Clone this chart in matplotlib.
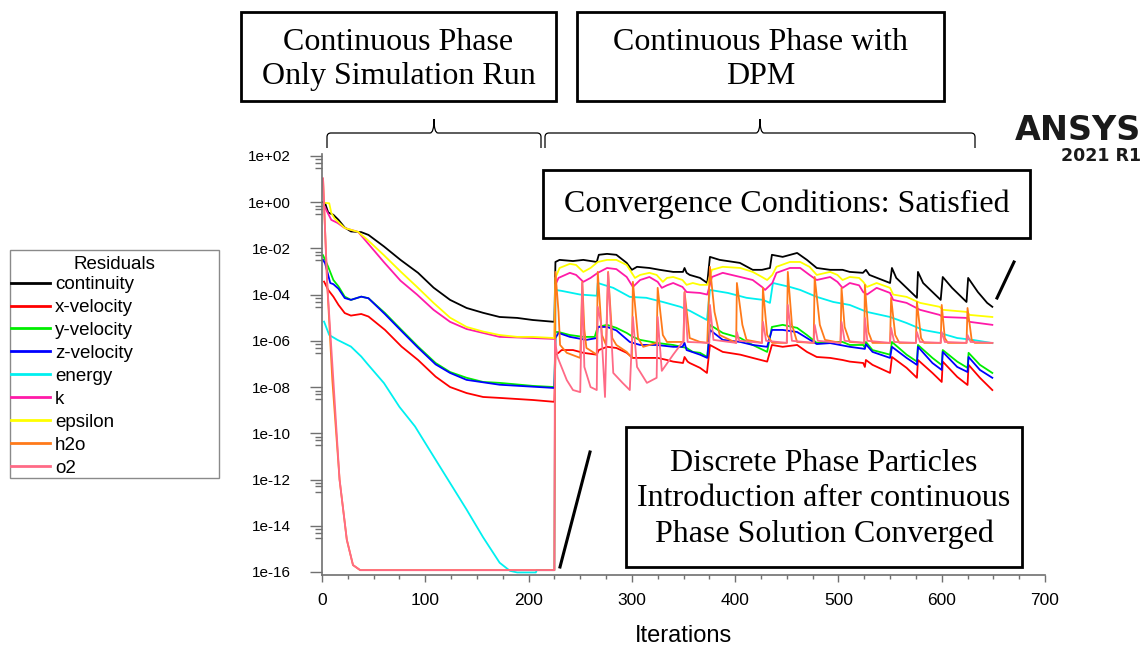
import numpy as np
import matplotlib
matplotlib.use("Agg")
import matplotlib.pyplot as plt
from matplotlib.patches import Rectangle, PathPatch
from matplotlib.path import Path
from matplotlib.lines import Line2D
from matplotlib.ticker import FixedLocator, FixedFormatter, MultipleLocator

# ---------------- data: (iteration, log10 residual) ----------------
continuity_pts = [(1, 0.0), (3, -0.05), (6, -0.45), (11, -0.55), (16, -0.77), (22, -1.1), (28, -1.27),
                  (38, -1.3), (45, -1.42), (60, -1.92), (76, -2.5), (93, -3.06), (108, -3.7), (124, -4.23),
                  (140, -4.58), (156, -4.79), (172, -4.97), (189, -5.01), (204, -5.1), (225, -5.18),
                  (226, -2.59), (230, -2.5), (243, -2.55), (253, -2.5), (266, -2.59), (268, -2.28), (276, -2.24),
                  (285, -2.28), (295, -2.63), (300, -2.93), (305, -2.8), (317, -2.85), (327, -2.93), (340, -3.02),
                  (349.5, -3.02), (351, -2.85), (353, -3.06), (356, -3.15), (366, -3.28), (373, -3.5),
                  (375.6, -2.37), (385, -2.5), (404.6, -2.63), (417, -2.93), (426, -2.93), (433.7, -2.85),
                  (435.6, -2.28), (446, -2.37), (460, -2.2), (469.5, -2.5), (479, -2.85), (492, -2.93),
                  (504, -2.93), (511, -3.02), (523.7, -3.06), (526.6, -2.93), (530, -3.15), (550, -3.5),
                  (551.8, -2.85), (556, -3.28), (566, -3.71), (576, -4.14), (577, -3.02), (582, -3.5),
                  (592, -3.93), (599, -4.23), (601, -3.24), (610, -3.71), (624, -4.32), (625.6, -3.28),
                  (635, -3.89), (644, -4.36), (649, -4.53)]

x_velocity_pts = [(2, -3.44), (6, -3.8), (11, -4.09), (16, -4.45), (22, -4.8), (28, -4.91), (38, -4.84),
                  (45, -4.95), (61, -5.53), (77, -6.25), (93, -6.83), (110, -7.55), (124, -8.0), (140, -8.26),
                  (156, -8.43), (172, -8.47), (204, -8.56), (225, -8.64),
                  (226, -6.6), (229, -6.52), (232, -6.4), (243, -6.4), (253, -6.52), (266, -6.6), (268, -6.4),
                  (276, -6.26), (285, -6.31), (295, -6.52), (301, -6.74), (325, -6.74), (334, -6.83),
                  (340, -6.9), (349.5, -6.96), (351, -6.7), (354, -6.9), (356, -6.96), (366, -7.17),
                  (372.7, -7.39), (375.6, -6.18), (388, -6.48), (405, -6.6), (417, -6.74), (431, -6.9),
                  (435.6, -6.18), (446, -6.26), (460, -6.18), (469.5, -6.48), (479, -6.7), (492, -6.74),
                  (504, -6.83), (511, -6.9), (524, -6.96), (525.6, -7.13), (526.6, -6.83), (533, -7.04),
                  (550, -7.39), (551.8, -6.7), (566, -7.17), (576, -7.6), (577, -6.83), (591, -7.39),
                  (600, -7.78), (601, -6.9), (615, -7.56), (625, -7.91), (626, -7.04), (637, -7.6), (649, -8.13)]

y_velocity_pts = [(1, -2.3), (3, -2.5), (6, -2.8), (11, -3.37), (16, -3.65), (22, -4.09), (28, -4.23),
                  (38, -4.09), (45, -4.16), (61, -4.8), (77, -5.53), (93, -6.25), (110, -6.96), (124, -7.35),
                  (140, -7.6), (156, -7.78), (172, -7.82), (204, -7.95), (225, -8.0),
                  (226, -5.62), (229, -5.62), (240, -5.75), (253, -5.83), (264, -5.83), (267, -5.4),
                  (276, -5.31), (285, -5.44), (295, -5.66), (301, -5.83), (308, -5.96), (324, -6.09),
                  (340, -6.18), (353, -6.31), (359, -6.48), (366, -6.52), (373, -6.7), (375.6, -5.31),
                  (388, -5.66), (405, -5.88), (417, -6.18), (431, -6.48), (435.6, -5.4), (446, -5.31),
                  (460, -5.44), (469.5, -5.75), (479, -6.09), (492, -6.05), (504, -6.05), (511, -6.18),
                  (524, -6.18), (525.6, -6.3), (526.6, -6.05), (533, -6.4), (550, -6.6), (551.8, -6.05),
                  (566, -6.6), (576, -6.9), (577, -6.18), (591, -6.74), (600, -7.05), (601, -6.4),
                  (615, -6.9), (625, -7.17), (626, -6.52), (637, -7.04), (649, -7.39)]

z_velocity_pts = [(1, -2.5), (3, -2.65), (8, -3.5), (11, -3.55), (16, -3.75), (22, -4.15), (28, -4.23),
                  (38, -4.09), (45, -4.16), (61, -4.85), (77, -5.58), (93, -6.3), (110, -7.02), (124, -7.39),
                  (140, -7.69), (172, -7.9), (225, -8.04),
                  (226, -5.88), (229, -5.66), (240, -5.83), (256, -5.96), (266, -5.88), (267, -5.4),
                  (276, -5.4), (285, -5.55), (298, -6.05), (308, -6.18), (324, -6.18), (340, -6.26),
                  (349, -6.26), (351, -6.09), (353, -6.4), (366, -6.6), (373, -6.74), (375.6, -5.53),
                  (388, -5.96), (405, -6.05), (417, -6.18), (431, -6.26), (435.6, -5.53), (446, -5.53),
                  (460, -5.62), (469.5, -5.88), (479, -6.14), (492, -6.1), (511, -6.26), (525.6, -6.35),
                  (526.6, -6.15), (533, -6.48), (550, -6.74), (551.8, -6.26), (566, -6.74), (576, -7.04),
                  (577, -6.26), (591, -6.96), (600, -7.26), (601, -6.48), (615, -7.13), (625, -7.35),
                  (626, -6.7), (637, -7.26), (649, -7.6)]

energy_pts = [(2, -5.17), (7, -5.75), (15, -5.96), (28, -6.25), (38, -6.68), (44, -7.0), (60, -7.83),
              (75, -8.86), (90, -9.7), (108, -11.0), (124, -12.15), (140, -13.3), (156, -14.5), (172, -15.6),
              (182, -15.95), (189, -16.02), (207, -16.02), (208, -15.92), (225, -15.92),
              (226, -3.8), (232, -3.84), (250, -4.0), (266, -4.05), (267, -3.5), (282, -3.71), (298, -4.1),
              (314, -4.14), (330, -4.32), (347, -4.53), (356, -4.7), (372.7, -5.1), (375.6, -3.8),
              (393, -3.93), (411, -4.14), (427, -4.23), (433.7, -4.36), (436.6, -3.5), (453, -3.67),
              (463, -3.8), (479, -4.1), (495, -4.32), (511, -4.45), (527.6, -4.75), (550, -4.97),
              (566, -5.23), (582, -5.53), (598, -5.66), (615, -5.88), (630, -5.96), (649, -6.1)]

k_pts = [(2, -0.15), (9, -0.77), (15, -0.9), (22, -1.12), (28, -1.2), (35, -1.29), (44, -1.76), (60, -2.6),
         (76, -3.4), (92, -4.0), (108, -4.66), (124, -5.18), (140, -5.49), (156, -5.66), (172, -5.83),
         (204, -5.88), (225, -5.92),
         (226, -3.58), (229, -3.28), (240, -3.06), (246, -3.15), (253, -3.45), (260, -3.28), (267, -3.06),
         (276, -2.85), (285, -2.9), (295, -3.24), (301, -3.67), (308, -3.37), (317, -3.24), (325, -3.45),
         (329, -3.71), (334, -3.6), (340, -3.5), (349, -3.67), (353, -3.89), (366, -3.93), (373, -4.0),
         (377.5, -3.24), (388, -3.06), (405, -3.24), (417, -3.37), (426, -3.67), (429, -3.8), (436, -3.5),
         (440, -3.06), (453, -2.85), (463, -2.85), (472, -3.15), (479, -3.37), (492, -3.24), (499, -3.45),
         (504, -3.71), (511, -3.5), (520, -3.6), (524, -3.89), (527.6, -4.0), (537, -3.71), (550, -3.93),
         (553, -4.23), (566, -4.36), (579, -4.66), (598, -4.88), (601, -4.97), (624, -5.01), (627, -5.18),
         (649, -5.31)]

epsilon_pts = [(2, -0.03), (7, -0.05), (9, -0.47), (12, -0.7), (22, -1.12), (28, -1.2), (35, -1.29),
               (44, -1.63), (60, -2.3), (76, -3.0), (92, -3.67), (108, -4.36), (124, -5.0), (140, -5.4),
               (156, -5.6), (172, -5.75), (189, -5.83), (204, -5.83), (225, -5.88),
               (226, -3.28), (230, -2.85), (240, -2.67), (246, -2.72), (253, -3.02), (260, -2.85),
               (267, -2.59), (276, -2.5), (285, -2.5), (295, -2.72), (303, -3.28), (308, -3.15),
               (317, -3.06), (324, -3.15), (330, -3.45), (334, -3.28), (340, -3.24), (349, -3.37),
               (353, -3.58), (359, -3.5), (366, -3.58), (373, -3.58), (377.5, -2.93), (388, -2.8),
               (405, -2.85), (417, -3.02), (426, -3.24), (431, -3.37), (436, -3.15), (440, -2.8),
               (453, -2.59), (463, -2.59), (472, -2.8), (479, -3.15), (492, -3.02), (499, -3.15),
               (504, -3.37), (511, -3.24), (520, -3.28), (524, -3.45), (527.6, -3.67), (537, -3.5),
               (550, -3.71), (553, -4.0), (566, -4.1), (579, -4.36), (598, -4.53), (601, -4.66),
               (624, -4.75), (627, -4.88), (649, -4.97)]

h2o_pts = [(1, 1.0), (5, -3.5), (10, -7.7), (17, -12.0), (24, -14.6), (30, -15.7), (37, -15.92), (225, -15.92),
           (226, -3.02), (229, -4.75), (230.5, -6.18), (237, -6.52), (250, -6.74), (252, -3.45), (254, -5.5),
           (256, -6.31), (262, -6.48), (266, -6.6), (267, -3.02), (271, -5.75), (275, -6.18), (277, -3.02),
           (281, -5.88), (285, -6.18), (295, -6.48), (300, -6.74), (301, -3.45), (306, -5.88), (311, -6.26),
           (324, -6.09), (325, -3.71), (330, -5.75), (334, -6.05), (350, -6.05), (351, -3.89), (356, -5.88),
           (366, -6.05), (373, -6.09), (375.6, -2.8), (380, -4.75), (385, -5.75), (401, -6.09),
           (401.7, -3.5), (407, -5.31), (411, -5.96), (426, -6.09), (426.9, -3.71), (431, -5.75),
           (436, -6.09), (450, -6.09), (451, -3.02), (455, -5.31), (460, -6.05), (476, -6.09), (477, -3.24),
           (482, -5.31), (487, -5.96), (502, -6.09), (503, -3.71), (506, -5.4), (511, -6.05), (525, -6.09),
           (525.6, -3.58), (529, -5.62), (533, -6.09), (550, -6.09), (551, -4.14), (555, -5.75),
           (559, -6.09), (575, -6.09), (576, -4.32), (580, -5.88), (583, -6.09), (599, -6.09), (600, -4.45),
           (603, -5.88), (606, -6.09), (624, -6.09), (625, -4.58), (629, -5.96), (632, -6.09), (649, -6.09)]

o2_pts = [(1, 1.03), (5, -3.5), (11, -7.7), (17, -12.0), (24, -14.6), (30, -15.7), (37, -15.92), (225, -15.92),
          (225.5, -5.96), (228, -6.7), (237, -7.7), (243, -8.13), (250, -8.22), (252, -3.5), (254, -7.13),
          (260, -8.0), (266, -8.13), (267, -4.53), (270, -5.2), (274, -8.43), (277, -3.06), (282, -7.39),
          (291, -7.82), (298, -8.13), (301, -4.97), (305, -7.13), (314.6, -7.82), (324, -7.6), (325, -4.97),
          (329, -7.3), (340, -6.6), (350, -6.0), (351, -3.93), (354, -6.05), (375, -6.09), (375.6, -4.45),
          (379, -5.96), (401, -6.09), (401.7, -5.62), (404, -6.0), (426, -6.09), (426.9, -5.18),
          (430, -6.0), (450, -6.09), (451, -4.45), (455, -6.0), (476, -6.09), (477, -5.31), (480, -6.0),
          (502, -6.09), (503, -5.18), (506, -6.0), (525, -6.09), (525.6, -5.01), (528, -6.0), (550, -6.09),
          (551, -5.44), (554, -6.05), (575, -6.09), (576, -5.62), (579, -6.05), (599, -6.09), (600, -5.62),
          (603, -6.05), (624, -6.09), (625, -5.75), (628, -6.05), (649, -6.09)]

series_names = ["continuity", "x-velocity", "y-velocity", "z-velocity", "energy", "k", "epsilon", "h2o", "o2"]
series_data = [continuity_pts, x_velocity_pts, y_velocity_pts, z_velocity_pts, energy_pts, k_pts,
               epsilon_pts, h2o_pts, o2_pts]
series_colors = ["#000000", "#ff0000", "#00ee00", "#0000ff", "#00f0f0", "#ff1aa8", "#ffff00", "#ff7a1a", "#ff6a86"]

ytick_exps = [2, 0, -2, -4, -6, -8, -10, -12, -14, -16]
ytick_labels = ["1e+02", "1e+00", "1e-02", "1e-04", "1e-06", "1e-08", "1e-10", "1e-12", "1e-14", "1e-16"]
xticks = [0, 100, 200, 300, 400, 500, 600, 700]

# ---------------- figure ----------------
W, H = 1147, 646
fig = plt.figure(figsize=(W / 100, H / 100), dpi=100)
fig.patch.set_facecolor("white")

def fx(px):
    return px / W

def fy(py):
    return 1 - py / H

ax = fig.add_axes([fx(322), fy(575), fx(1045) - fx(322), fy(154) - fy(575)])
ax.set_yscale("log")
lines = []
for name, pts, col in zip(series_names, series_data, series_colors):
    arr = np.array(pts, dtype=float)
    ln, = ax.plot(arr[:, 0], 10.0 ** arr[:, 1], color=col, lw=1.3, label=name)
    lines.append(ln)

ax.set_xlim(0, 700)
ax.set_ylim(10 ** -16.13, 10 ** 2.08)
ax.yaxis.set_major_locator(FixedLocator([10.0 ** e for e in ytick_exps]))
ax.yaxis.set_major_formatter(FixedFormatter(ytick_labels))
minor_vals = []
for e in ytick_exps:
    for f in (0.7, 0.5, 0.3):
        minor_vals.append(f * 10.0 ** e)
ax.yaxis.set_minor_locator(FixedLocator(minor_vals))
ax.yaxis.set_minor_formatter(FixedFormatter([]))
ax.xaxis.set_major_locator(FixedLocator(xticks))
ax.xaxis.set_minor_locator(MultipleLocator(25))

spine_col = "#707070"
for s in ["top", "right"]:
    ax.spines[s].set_visible(False)
for s in ["left", "bottom"]:
    ax.spines[s].set_color(spine_col)
    ax.spines[s].set_linewidth(1.2)
ax.tick_params(axis="y", which="major", length=8.5, width=1.0, color=spine_col, labelsize=11, pad=14)
ax.tick_params(axis="y", which="minor", length=5, width=1.0, color=spine_col)
ax.tick_params(axis="x", which="major", length=5, width=1.0, color=spine_col, labelsize=12.5, pad=8)
ax.tick_params(axis="x", which="minor", length=3, width=1.0, color=spine_col)
for lab in ax.get_xticklabels() + ax.get_yticklabels():
    lab.set_fontfamily("Liberation Sans")
ax.set_xlabel("Iterations", fontsize=17, fontfamily="Liberation Sans", labelpad=12)

# legend (frame drawn separately to match the wide box)
fig.patches.append(Rectangle((fx(10), fy(478)), fx(219) - fx(10), fy(250) - fy(478),
                             transform=fig.transFigure, fill=False, edgecolor="#8a8a8a", lw=1.0))
fig.text(fx(114), fy(264), "Residuals", ha="center", va="center", fontsize=13.5,
         fontfamily="Liberation Sans")
leg = fig.legend(handles=lines, labels=series_names, loc="upper left",
                 bbox_to_anchor=(fx(11), fy(276)), frameon=False,
                 prop={"family": "Liberation Sans", "size": 13.5},
                 handlelength=2.1, handletextpad=0.25, labelspacing=0.31, borderpad=0.0, borderaxespad=0)
for h in leg.legend_handles:
    h.set_linewidth(2.0)

# annotation boxes
def box(x0, y0, x1, y1, text, ls=1.0, dy=0):
    fig.patches.append(Rectangle((fx(x0), fy(y1)), fx(x1) - fx(x0), fy(y0) - fy(y1),
                                 transform=fig.transFigure, fill=False, edgecolor="black", lw=2.0))
    fig.text(fx((x0 + x1) / 2), fy((y0 + y1) / 2 + dy), text, ha="center", va="center",
             fontsize=23, fontfamily="Liberation Serif", linespacing=ls)

box(241, 12, 556, 101, "Continuous Phase\nOnly Simulation Run", ls=1.2, dy=3)
box(577, 12, 944, 101, "Continuous Phase with\nDPM", ls=1.2, dy=3)
box(543, 170, 1030, 238, "Convergence Conditions: Satisfied")
box(626, 427, 1022, 567, "Discrete Phase Particles\nIntroduction after continuous\nPhase Solution Converged",
    ls=1.26, dy=2)

# curly braces
def brace(x0, x1, ybase, ymid, ytop):
    xc = (x0 + x1) / 2
    r = 4
    verts = [(x0, ybase), (x0, ymid + r), (x0, ymid), (x0 + r, ymid),
             (xc - r, ymid), (xc, ymid), (xc, ytop),
             (xc, ymid), (xc + r, ymid),
             (x1 - r, ymid), (x1, ymid), (x1, ymid + r), (x1, ybase)]
    codes = [Path.MOVETO, Path.LINETO, Path.CURVE3, Path.CURVE3,
             Path.LINETO, Path.CURVE3, Path.CURVE3,
             Path.CURVE3, Path.CURVE3,
             Path.LINETO, Path.CURVE3, Path.CURVE3, Path.LINETO]
    verts = [(fx(a), fy(b)) for a, b in verts]
    fig.patches.append(PathPatch(Path(verts, codes), transform=fig.transFigure, fill=False,
                                 edgecolor="black", lw=0.9))

brace(327, 541, 148, 133, 119)
brace(545, 975, 148, 133, 119)

# pointer lines
fig.add_artist(Line2D([fx(560), fx(590)], [fy(567), fy(452)], color="black", lw=2.2))
fig.add_artist(Line2D([fx(997), fx(1014)], [fy(298), fy(262)], color="black", lw=2.2))

# logo text
fig.text(fx(1141), fy(130), "ANSYS", ha="right", va="center", fontsize=24, fontweight="heavy",
         fontfamily="DejaVu Sans", color="#1a1a1a")
fig.text(fx(1141), fy(156), "2021 R1", ha="right", va="center", fontsize=12.5, fontweight="bold",
         fontfamily="DejaVu Sans", color="#1a1a1a")

fig.savefig("out.png", dpi=100, facecolor="white")
